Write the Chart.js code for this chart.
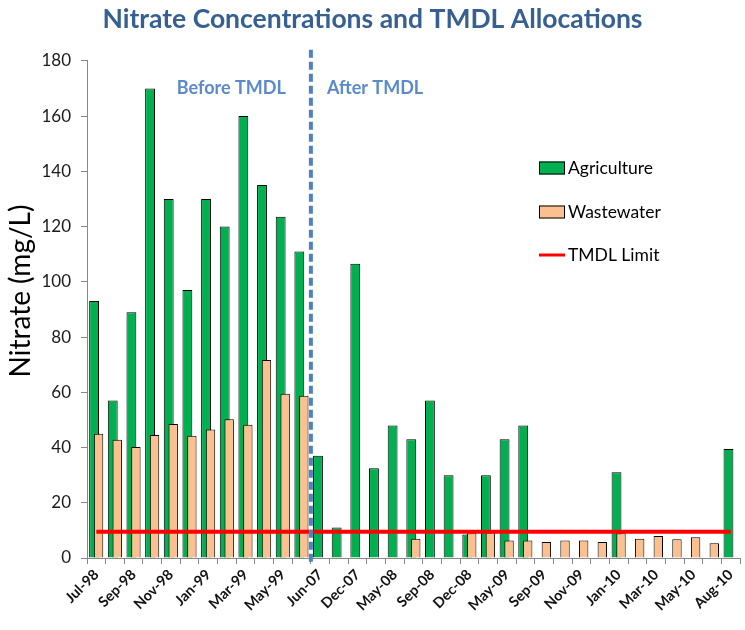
<!DOCTYPE html>
<html>
<head>
<meta charset="utf-8">
<title>Nitrate Concentrations and TMDL Allocations</title>
<script src="https://cdn.jsdelivr.net/npm/chart.js@4.4.1/dist/chart.umd.min.js"></script>
<style>
  body { margin: 0; background: #fff; }
  #wrap { position: relative; width: 745px; height: 630px; }
</style>
</head>
<body>
<div id="wrap"><canvas id="nitrateChart"></canvas></div>
<script>
// Sampling dates, only every other one gets a label on the axis
const months = [
    'Jul-98', 'Aug-98', 'Sep-98', 'Oct-98', 'Nov-98', 'Dec-98',
    'Jan-99', 'Feb-99', 'Mar-99', 'Apr-99', 'May-99', 'Jun-99',
    'Jun-07', 'Sep-07', 'Dec-07', 'Mar-08', 'May-08', 'Jul-08',
    'Sep-08', 'Nov-08', 'Dec-08', 'Mar-09', 'May-09', 'Jul-09',
    'Sep-09', 'Oct-09', 'Nov-09', 'Dec-09', 'Jan-10', 'Feb-10',
    'Mar-10', 'Apr-10', 'May-10', 'Jul-10', 'Aug-10'
];

// Nitrate (mg/L), null where no sample was taken
const agriculture = [
    93, 57, 89, 170, 130, 97, 130, 120, 160, 135, 123.5, 111,
    37, 11, 106.5, 32.5, 48, 43, 57, 30, 8.5, 30, 43, 48,
    null, null, null, null, 31, null, null, null, null, null, 39.5
];
const wastewater = [
    45, 42.8, 40.2, 44.5, 48.5, 44.3, 46.5, 50.2, 48.2, 71.7, 59.5, 58.7,
    null, null, null, null, null, 7, null, null, 9, 9.2, 6.3, 6.3,
    5.8, 6.3, 6.3, 5.8, 9, 7, 8, 6.8, 7.5, 5.3, null
];

const tmdlLimit = 9.5;
const yMin = 0;
const yMax = 180;
const yStep = 20;
const samplesBeforeTmdl = 12;

const fontFamily = "Lato, 'Open Sans', sans-serif";
const green = '#00b050';
const peach = '#fac090';
const red = '#ff0000';
const steelBlue = '#4f81bd';

const AGRI = 1;   // dataset indexes
const WASTE = 2;

// bars overlap, wastewater has to be painted over agriculture
const barOrderPlugin = {
    id: 'barOrder',
    beforeDatasetDraw(chart, args) {
        if (args.index === WASTE && !chart.$drawingWaste) return false;
    },
    afterDatasetDraw(chart, args) {
        if (args.index === AGRI) {
            chart.$drawingWaste = true;
            chart.getDatasetMeta(WASTE).controller.draw();
            chart.$drawingWaste = false;
        }
    }
};

// dashed divider, period captions, y title and the legend on the right
const overlayPlugin = {
    id: 'overlay',
    afterDatasetsDraw(chart) {
        const { ctx, chartArea } = chart;
        const x = chart.scales.x;
        const divX = (x.getPixelForValue(samplesBeforeTmdl - 1) + x.getPixelForValue(samplesBeforeTmdl)) / 2;

        ctx.save();
        ctx.strokeStyle = steelBlue;
        ctx.lineWidth = 4;
        ctx.setLineDash([8, 4]);
        ctx.beginPath();
        ctx.moveTo(divX, chartArea.top - 11);
        ctx.lineTo(divX, chartArea.bottom + 6);
        ctx.stroke();
        ctx.setLineDash([]);

        ctx.fillStyle = '#5a8acb';
        ctx.font = 'bold 18px ' + fontFamily;
        ctx.textBaseline = 'middle';
        ctx.textAlign = 'right';
        ctx.fillText('Before TMDL', divX - 25, 88);
        ctx.textAlign = 'left';
        ctx.fillText('After TMDL', divX + 16, 88);

        // y axis title, sits a bit above the middle of the plot
        ctx.save();
        ctx.translate(21, 291);
        ctx.rotate(-Math.PI / 2);
        ctx.textAlign = 'center';
        ctx.fillStyle = '#000';
        ctx.font = '28px ' + fontFamily;
        ctx.fillText('Nitrate (mg/L)', 0, 0);
        ctx.restore();

        // legend
        const lx = 539, boxW = 26, boxH = 13;
        const items = [
            { label: 'Agriculture', type: 'box', color: green, y: 168 },
            { label: 'Wastewater', type: 'box', color: peach, y: 212 },
            { label: 'TMDL Limit', type: 'line', color: red, y: 255 }
        ];
        ctx.font = '17.5px ' + fontFamily;
        ctx.textAlign = 'left';
        items.forEach(function(it) {
            if (it.type === 'box') {
                ctx.fillStyle = it.color;
                ctx.fillRect(lx, it.y - boxH / 2, boxW, boxH);
                ctx.strokeStyle = '#000';
                ctx.lineWidth = 1;
                ctx.strokeRect(lx + 0.5, it.y - boxH / 2 + 0.5, boxW - 1, boxH - 1);
            } else {
                ctx.strokeStyle = it.color;
                ctx.lineWidth = 3;
                ctx.beginPath();
                ctx.moveTo(lx, it.y);
                ctx.lineTo(lx + boxW, it.y);
                ctx.stroke();
            }
            ctx.fillStyle = '#000';
            ctx.fillText(it.label, lx + boxW + 3, it.y);
        });
        ctx.restore();
    }
};

const ctx = document.getElementById('nitrateChart');
new Chart(ctx, {
    type: 'bar',
    data: {
        labels: months,
        datasets: [
            {
                type: 'line',
                label: 'TMDL Limit',
                data: [
                    { x: months[0], y: tmdlLimit },
                    { x: months[months.length - 1], y: tmdlLimit }
                ],
                borderColor: red,
                borderWidth: 4,
                pointRadius: 0,
                order: -1
            },
            {
                label: 'Agriculture',
                data: agriculture,
                backgroundColor: green,
                borderColor: '#000',
                borderWidth: 1,
                categoryPercentage: 0.48,
                barPercentage: 2.2
            },
            {
                label: 'Wastewater',
                data: wastewater,
                backgroundColor: peach,
                borderColor: '#000',
                borderWidth: 1,
                categoryPercentage: 0.48,
                barPercentage: 2.1
            }
        ]
    },
    options: {
        responsive: true,
        maintainAspectRatio: false,
        animation: false,
        layout: { padding: { left: 0, right: 0, top: 0, bottom: 0 } },
        plugins: {
            legend: { display: false },
            tooltip: { enabled: false },
            title: {
                display: true,
                text: 'Nitrate Concentrations and TMDL Allocations',
                color: '#376092',
                font: { family: fontFamily, size: 26.5, weight: 'bold' },
                padding: { top: 4, bottom: 25 }
            }
        },
        scales: {
            x: {
                offset: true,
                grid: {
                    offset: true,
                    drawOnChartArea: false,
                    tickLength: 6,
                    color: '#888'
                },
                border: { color: '#888' },
                ticks: {
                    autoSkip: false,
                    maxRotation: 45,
                    minRotation: 45,
                    padding: 2,
                    color: '#111',
                    font: { family: fontFamily, size: 14.5, weight: 'bold' },
                    callback: function(value, index) {
                        return index % 2 === 0 ? months[index] : '';
                    }
                },
                afterFit: function(scale) { scale.height = 72; }
            },
            y: {
                min: yMin,
                max: yMax,
                grid: {
                    drawOnChartArea: false,
                    tickLength: 6,
                    color: '#888'
                },
                border: { color: '#888' },
                ticks: {
                    stepSize: yStep,
                    padding: 10,
                    color: '#1a1a1a',
                    font: { family: fontFamily, size: 17 }
                },
                afterFit: function(scale) { scale.width = 87; }
            }
        }
    },
    plugins: [barOrderPlugin, overlayPlugin]
});
</script>
</body>
</html>
